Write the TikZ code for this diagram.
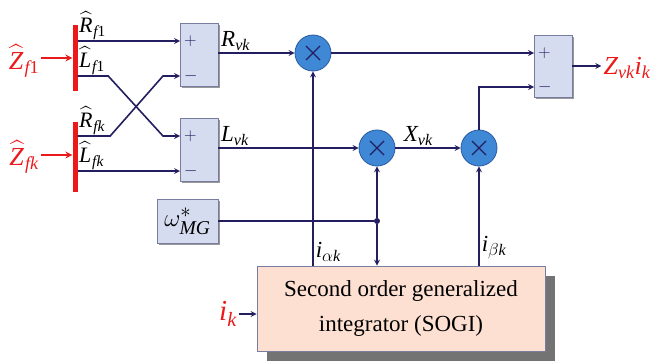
\documentclass[tikz,border=0pt]{standalone}
\usepackage{amsmath}
\usepackage{fontspec}
\setmainfont{Liberation Serif}
\usepackage{tikz}
\usetikzlibrary{
    calc,
    arrows,
    shadows
}
\definecolor{wirecol}{RGB}{35,30,95}
\definecolor{boxfill}{RGB}{214,220,240}
\definecolor{boxline}{RGB}{120,125,160}
\definecolor{multfill}{RGB}{62,136,214}
\definecolor{multline}{RGB}{40,90,160}
\definecolor{sogifill}{RGB}{253,224,210}
\definecolor{sigred}{RGB}{235,25,25}
\newcommand{\hatit}[1]{\widehat{\raisebox{0pt}[\dimexpr\height+1pt\relax]{\textit{#1}\kern1pt}}}
\tikzset{
    wire/.style={draw=wirecol, line width=1.6pt},
    redwire/.style={draw=sigred, line width=2pt},
    sumbox/.style={draw=boxline, fill=boxfill, line width=0.8pt,
        minimum width=38pt, minimum height=63pt, inner sep=0pt,
        drop shadow={shadow xshift=2pt, shadow yshift=-2pt, fill=black!40, opacity=1}},
    sogibox/.style={draw=boxline, fill=sogifill, line width=0.8pt,
        minimum width=288pt, minimum height=85pt, align=center,
        font=\fontsize{23}{35}\selectfont,
        drop shadow={shadow xshift=10pt, shadow yshift=-10pt, fill=black!55, opacity=1}},
    mult/.style={circle, draw=multline, fill=multfill, line width=0.8pt,
        minimum size=36pt, inner sep=0pt,
        path picture={
            \draw[wirecol, line width=1.3pt]
                ([shift={(-7pt,-7pt)}]path picture bounding box.center) --
                ([shift={(7pt,7pt)}]path picture bounding box.center)
                ([shift={(-7pt,7pt)}]path picture bounding box.center) --
                ([shift={(7pt,-7pt)}]path picture bounding box.center);
        }},
    zbar/.style={fill=sigred, minimum width=5pt, inner sep=0pt},
    jdot/.style={circle, fill=wirecol, inner sep=0pt, minimum size=6pt},
    sig/.style={font=\fontsize{23}{27}\selectfont, inner sep=2pt, text=black},
    hatsig/.style={sig, font=\fontsize{22}{26}\selectfont, inner sep=0.5pt},
    redsig/.style={font=\fontsize{26}{30}\selectfont, inner sep=2pt, text=sigred},
    pm/.style={font=\fontsize{16}{18}\selectfont, inner sep=1pt, text=wirecol}
}

\begin{document}
\begin{tikzpicture}[x=1pt, y=-1pt, >=stealth]
    \useasboundingbox (0,0) rectangle (653,361);

    % impedance inputs
    \draw ( 75, 58) node[zbar, minimum height=66pt](bar1){};
    \draw ( 75,157) node[zbar, minimum height=70pt](bar2){};
    \draw ( 24, 61) node[redsig](zf1){$\hatit{Z}_{\textit{f}\textup{1}}$};
    \draw ( 24,157) node[redsig](zfk){$\hatit{Z}_{\textit{fk}}$};
    \draw[redwire,->] (zf1.east |- bar1) -- (bar1.west);
    \draw[redwire,->] (zfk.east |- 0,155) -- (bar2.west |- 0,155);

    % summing blocks
    \draw (199, 54.5) node[sumbox](sum1){};
    \draw (199,149.5) node[sumbox](sum2){};
    \draw (553, 66)   node[sumbox, minimum height=62pt](sum3){};
    \coordinate (s1p) at (180, 41);
    \coordinate (s1m) at (180, 76);
    \coordinate (s2p) at (180,136);
    \coordinate (s2m) at (180,171);
    \coordinate (s3p) at (534, 53);
    \coordinate (s3m) at (534, 87);
    \draw ([xshift=3pt]s1p) node[pm, right](p1){$+$};
    \draw ([xshift=3pt]s1m) node[pm, right](n1){$-$};
    \draw ([xshift=3pt]s2p) node[pm, right](p2){$+$};
    \draw ([xshift=3pt]s2m) node[pm, right](n2){$-$};
    \draw ([xshift=3pt]s3p) node[pm, right](p3){$+$};
    \draw ([xshift=3pt]s3m) node[pm, right](n3){$-$};

    % multipliers
    \draw (313, 53) node[mult](m1){};
    \draw (377,148) node[mult](m2){};
    \draw (479,148) node[mult](m3){};

    % frequency reference and SOGI
    \draw (187.5,221) node[sumbox, minimum width=61pt, minimum height=44pt,
        font=\fontsize{28}{30}\selectfont](omg){$\omega^{*}_{\textit{MG}}$};
    \draw (377,221) node[jdot](jn){};
    \draw (401,308.5) node[sogibox](sogi){Second order generalized\\integrator (SOGI)};
    \draw (228,314) node[redsig, font=\fontsize{29}{32}\selectfont](ik){$\textit{i}_{\textit{k}}$};
    \draw (627, 68) node[redsig](zout){$\textit{Z}_{\textit{vk}}\textit{i}_{\textit{k}}$};

    % signals
    \draw[wire,->] (bar1.east |- s1p) node[hatsig, above right](rf1){$\hatit{R}_{\textit{f}\textup{1}}$} -- (s1p);
    \draw[wire,->] (bar1.east |- s1m) node[hatsig, above right](lf1){$\hatit{L}_{\textit{f}\textup{1}}$}
        -- ++(30.5,0) -- ([xshift=-17pt]s2p) -- (s2p);
    \draw[wire,->] (bar2.east |- s2p) node[hatsig, above right](rfk){$\hatit{R}_{\textit{fk}}$}
        -- ++(32.5,0) -- ([xshift=-17pt]s1m) -- (s1m);
    \draw[wire,->] (bar2.east |- s2m) node[hatsig, above right](lfk){$\hatit{L}_{\textit{fk}}$} -- (s2m);

    \draw[wire,->] (sum1.east |- m1) node[sig, above right](rvk){$\textit{R}_{\textit{vk}}$} -- (m1);
    \draw[wire,->] (sum2.east |- m2) node[sig, above right](lvk){$\textit{L}_{\textit{vk}}$} -- (m2);
    \draw[wire,->] (m2) -- node[sig, above, pos=0.35](xvk){$\textit{X}_{\textit{vk}}$} (m3);
    \draw[wire,->] (m1) -- (s3p);
    \draw[wire,->] (m3) |- (s3m);
    \draw[wire,->] (sum3.east) -- (sum3.east -| zout.west);

    \draw[wire,->] (sogi.north -| m1) -- node[sig, right, pos=0.07](ia){$\textit{i}_{\alpha\textit{k}}$} (m1);
    \draw[wire,->] (sogi.north -| m3) -- node[sig, right, pos=0.18](ib){$\textit{i}_{\beta\textit{k}}$} (m3);
    \draw[wire] (omg) -- (jn);
    \draw[wire,->] (jn) -- (m2);
    \draw[wire,->] (jn) -- (jn |- sogi.north);
    \draw[wire,->] (ik) -- (ik -| sogi.west);
\end{tikzpicture}
\end{document}
